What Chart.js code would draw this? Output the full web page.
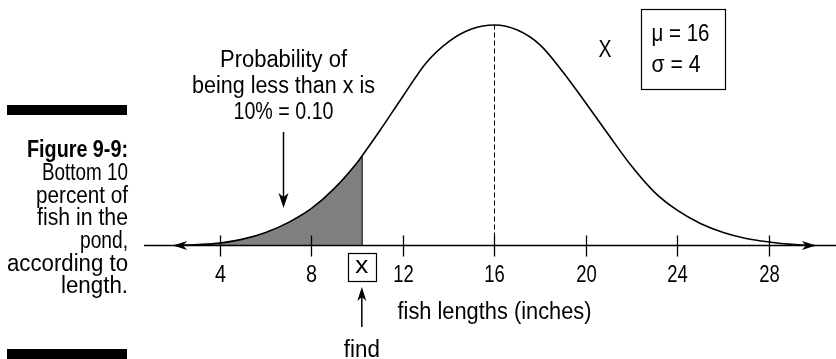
<!DOCTYPE html>
<html>
<head>
<meta charset="utf-8">
<script src="https://cdn.jsdelivr.net/npm/chart.js@4/dist/chart.umd.min.js"></script>
<style>
  html, body { margin: 0; padding: 0; background: #fff; }
  #wrap { width: 836px; height: 359px; }
</style>
</head>
<body>
<div id="wrap"><canvas id="fish-chart" width="836" height="359"></canvas></div>
<script>
// 魚の長さ (inches) と曲線の高さ
const fishLengths = [2, 3, 4, 5, 6, 7, 8, 9, 10, 10.2, 11, 12, 13, 14, 15, 16, 17, 18, 19, 20, 21, 22, 23, 24, 25, 26, 27, 28, 29, 30];
const density = [0, 0.0004, 0.0011, 0.0029, 0.0059, 0.0105, 0.0168, 0.0259, 0.0377, 0.0405, 0.0523, 0.0677, 0.0827, 0.0925, 0.0982, 0.1000, 0.0977, 0.0909, 0.0786, 0.0645, 0.0500, 0.0359, 0.0241, 0.0159, 0.0100, 0.0059, 0.0032, 0.0016, 0.0005, 0];
const tickValues = [4, 8, 12, 16, 20, 24, 28];
const cutoff = 10.2;   // 下位10%の境界 x
const meanLength = 16;
const paramLines = ['\u03BC = 16', '\u03C3 = 4'];
const probLines = ['Probability of', 'being less than x is', '10% = 0.10'];
const captionLines = ['Figure 9-9:', 'Bottom 10', 'percent of', 'fish in the', 'pond,', 'according to', 'length.'];

const FONT = '"Liberation Sans", Arial, sans-serif';
const SHADE = '#808080';

// テキストを指定幅に合わせて描画（コンデンス書体の代わり）
function drawText(ctx, str, x, y, align, width, bold) {
    ctx.save();
    ctx.font = (bold ? 'bold ' : '') + '23px ' + FONT;
    const w = ctx.measureText(str).width;
    const sx = width ? width / w : 1;
    ctx.translate(x, y);
    ctx.scale(sx, 1);
    ctx.textAlign = align;
    ctx.textBaseline = 'alphabetic';
    ctx.fillStyle = '#000';
    ctx.fillText(str, 0, 0);
    ctx.restore();
}

// 矢じり (dx, dy: 向き)
function arrowHead(ctx, tx, ty, dx, dy, len, half, notch) {
    const px = -dy, py = dx;
    ctx.beginPath();
    ctx.moveTo(tx, ty);
    ctx.lineTo(tx - dx * len + px * half, ty - dy * len + py * half);
    ctx.lineTo(tx - dx * notch, ty - dy * notch);
    ctx.lineTo(tx - dx * len - px * half, ty - dy * len - py * half);
    ctx.closePath();
    ctx.fill();
}

const annotations = {
    id: 'annotations',
    afterDatasetsDraw(chart) {
        const ctx = chart.ctx;
        const xs = chart.scales.x;
        const ys = chart.scales.y;
        const y0 = ys.getPixelForValue(0);
        ctx.save();
        ctx.strokeStyle = '#000';
        ctx.fillStyle = '#000';

        // x軸
        ctx.lineWidth = 1.5;
        ctx.beginPath();
        ctx.moveTo(xs.getPixelForValue(0.68), y0);
        ctx.lineTo(chart.width, y0);
        ctx.stroke();
        arrowHead(ctx, xs.getPixelForValue(1.95), y0, -1, 0, 14, 4.5, 10);
        arrowHead(ctx, xs.getPixelForValue(30.05), y0, 1, 0, 14, 4.5, 10);

        // 目盛り
        ctx.lineWidth = 1.3;
        tickValues.forEach(v => {
            const px = Math.round(xs.getPixelForValue(v)) + 0.5;
            ctx.beginPath();
            ctx.moveTo(px, y0 - 10);
            ctx.lineTo(px, y0 + 11);
            ctx.stroke();
            const label = String(v);
            drawText(ctx, label, px, 282, 'center', label.length === 1 ? 11 : 20.5, false);
        });

        // 軸ラベル
        drawText(ctx, 'fish lengths (inches)', 494.5, 319, 'center', 194, false);

        // x の箱と find の矢印
        const cx = xs.getPixelForValue(cutoff);
        ctx.lineWidth = 1.2;
        ctx.strokeRect(348.5, 253.5, 28, 28);
        drawText(ctx, 'x', cx, 273, 'center', 13, false);
        ctx.lineWidth = 1.5;
        ctx.beginPath();
        ctx.moveTo(cx, 327);
        ctx.lineTo(cx, 295);
        ctx.stroke();
        arrowHead(ctx, cx, 287, 0, -1, 14, 4.5, 10);
        drawText(ctx, 'find', cx, 357, 'center', 36, false);

        // 確率の説明と矢印
        const tx = 283.5;
        const probWidths = [127, 183, 100];
        const probBase = [66.7, 93.3, 119.3];
        probLines.forEach((s, i) => {
            drawText(ctx, s, tx, probBase[i], 'center', probWidths[i], false);
        });
        ctx.lineWidth = 1.5;
        ctx.beginPath();
        ctx.moveTo(tx, 132);
        ctx.lineTo(tx, 200);
        ctx.stroke();
        arrowHead(ctx, tx, 208, 0, 1, 15, 5, 11);

        // X とパラメータの箱
        drawText(ctx, 'X', 605, 57.3, 'center', 13, false);
        ctx.lineWidth = 1.2;
        ctx.strokeRect(641.5, 9.5, 84, 80);
        drawText(ctx, paramLines[0], 651.5, 40.7, 'left', 58, false);
        drawText(ctx, paramLines[1], 651.5, 71.7, 'left', 49, false);

        // 左のキャプション
        ctx.fillRect(7, 105, 120, 10);
        ctx.fillRect(7, 349, 120, 10);
        const capWidths = [101, 86, 92, 91, 48, 121, 67];
        const capBase = [156.7, 180, 202.7, 225, 248.3, 271, 293.3];
        captionLines.forEach((s, i) => {
            drawText(ctx, s, 128, capBase[i], 'right', capWidths[i], i === 0);
        });

        ctx.restore();
    }
};

const ctx = document.getElementById('fish-chart').getContext('2d');
const peak = density[fishLengths.indexOf(meanLength)];
const cutHeight = density[fishLengths.indexOf(cutoff)];

new Chart(ctx, {
    type: 'line',
    data: {
        datasets: [
            {
                label: 'curve',
                data: fishLengths.map((x, i) => ({ x: x, y: density[i] })),
                borderColor: '#000',
                borderWidth: 1.6,
                pointRadius: 0,
                cubicInterpolationMode: 'monotone',
                fill: 'origin',
                backgroundColor: SHADE,
                segment: {
                    backgroundColor: c => c.p1.parsed.x <= cutoff ? SHADE : 'rgba(0,0,0,0)'
                }
            },
            {
                label: 'mean',
                data: [{ x: meanLength, y: 0 }, { x: meanLength, y: peak }],
                borderColor: '#000',
                borderWidth: 1,
                borderDash: [5, 3],
                pointRadius: 0,
                fill: false
            },
            {
                label: 'cutoff',
                data: [{ x: cutoff, y: 0 }, { x: cutoff, y: cutHeight }],
                borderColor: '#000',
                borderWidth: 1.8,
                pointRadius: 0,
                fill: false
            }
        ]
    },
    options: {
        responsive: false,
        animation: false,
        layout: { padding: 0 },
        scales: {
            x: { type: 'linear', display: false, min: -5.617, max: 30.929 },
            y: { type: 'linear', display: false, min: -0.05147, max: 0.11134 }
        },
        plugins: {
            legend: { display: false },
            tooltip: { enabled: false }
        }
    },
    plugins: [annotations]
});
</script>
</body>
</html>
